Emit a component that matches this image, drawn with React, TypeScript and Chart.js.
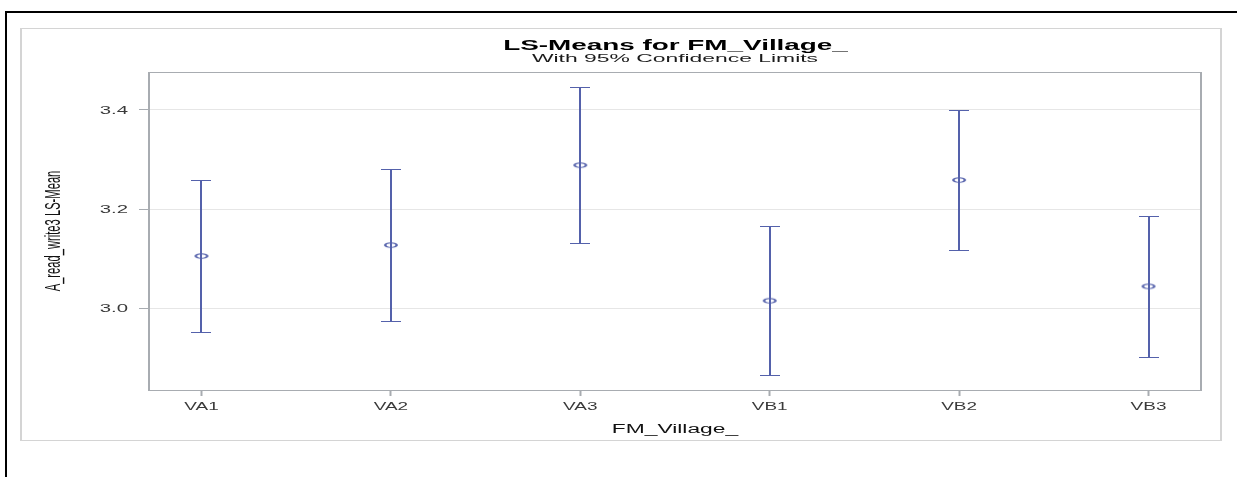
import React, { useEffect, useRef } from "react";
import { Chart, registerables } from "chart.js";

Chart.register(...registerables);

const CATEGORIES = ["VA1", "VA2", "VA3", "VB1", "VB2", "VB3"];
const LSMEAN = [3.106, 3.128, 3.289, 3.016, 3.259, 3.045];
const LOWER = [2.954, 2.975, 3.132, 2.866, 3.118, 2.903];
const UPPER = [3.259, 3.281, 3.446, 3.166, 3.4, 3.187];
const Y_TICKS = [3.0, 3.2, 3.4];
const Y_MIN = 2.8363;
const Y_MAX = 3.4765;
const X_PAD = 0.277;

const TITLE = "LS-Means for FM_Village_";
const SUBTITLE = "With 95% Confidence Limits";
const X_TITLE = "FM_Village_";
const Y_TITLE = "A_read_write3 LS-Mean";

const FONT = '"Liberation Sans", Arial, sans-serif';
const BLUE = "#5461ab";

function drawText(
  ctx: CanvasRenderingContext2D,
  text: string,
  x: number,
  y: number,
  font: string,
  color: string,
  kx: number,
  align: CanvasTextAlign,
  baseline: CanvasTextBaseline,
  rotate = false
) {
  ctx.save();
  ctx.translate(x, y);
  ctx.scale(kx, 1);
  if (rotate) ctx.rotate(-Math.PI / 2);
  ctx.font = font;
  ctx.fillStyle = color;
  ctx.textAlign = align;
  ctx.textBaseline = baseline;
  ctx.fillText(text, 0, 0);
  ctx.restore();
}

function makeMarker(): HTMLCanvasElement {
  const mk = document.createElement("canvas");
  mk.width = 16;
  mk.height = 8;
  const c = mk.getContext("2d")!;
  c.save();
  c.translate(8, 4);
  c.scale(2.5, 1);
  c.beginPath();
  c.arc(0, 0, 2.3, 0, Math.PI * 2);
  c.lineWidth = 1;
  c.strokeStyle = BLUE;
  c.stroke();
  c.restore();
  return mk;
}

const framePlugin = {
  id: "framePlugin",
  beforeDraw(chart: any) {
    const ctx = chart.ctx as CanvasRenderingContext2D;
    ctx.save();
    ctx.fillStyle = "#ffffff";
    ctx.fillRect(0, 0, chart.width, chart.height);
    // outer black frame
    ctx.fillStyle = "#000000";
    ctx.fillRect(5, 11, chart.width - 5, 2);
    ctx.fillRect(5, 11, 2, chart.height - 11);
    // gray graph box
    ctx.fillStyle = "#d4d4d4";
    ctx.fillRect(20, 28, 1202, 1);
    ctx.fillRect(20, 440, 1202, 1);
    ctx.fillRect(20, 28, 2, 413);
    ctx.fillRect(1220, 28, 2, 413);
    ctx.restore();
  },
  beforeDatasetsDraw(chart: any) {
    const ctx = chart.ctx as CanvasRenderingContext2D;
    const { left, right, top, bottom } = chart.chartArea;
    const xs = chart.scales.x;
    const ys = chart.scales.y;
    ctx.save();
    // plot border
    ctx.fillStyle = "#a8acb1";
    ctx.fillRect(left, Math.round(top), right - left, 1);
    ctx.fillRect(left, Math.round(bottom), right - left + 1, 1);
    ctx.fillRect(left - 1, top, 2, bottom - top + 1);
    ctx.fillRect(right - 1, top, 2, bottom - top + 1);
    // error bars
    ctx.fillStyle = BLUE;
    for (let i = 0; i < CATEGORIES.length; i++) {
      const x = xs.getPixelForValue(i);
      const yU = Math.round(ys.getPixelForValue(UPPER[i]));
      const yL = Math.round(ys.getPixelForValue(LOWER[i]));
      ctx.fillRect(Math.round(x) - 1, yU, 2, yL - yU + 1);
      ctx.fillRect(Math.round(x) - 10, yU, 20, 1);
      ctx.fillRect(Math.round(x) - 10, yL, 20, 1);
    }
    ctx.restore();
  },
  afterDraw(chart: any) {
    const ctx = chart.ctx as CanvasRenderingContext2D;
    const xs = chart.scales.x;
    const ys = chart.scales.y;
    const { left, right } = chart.chartArea;
    const cx = (left + right) / 2;
    // titles
    drawText(ctx, TITLE, cx + 0.5, 50, `bold 14px ${FONT}`, "#000", 1.99, "center", "alphabetic");
    drawText(ctx, SUBTITLE, cx, 62, `11px ${FONT}`, "#1a1a1a", 2.08, "center", "alphabetic");
    // y tick labels
    for (const v of Y_TICKS) {
      drawText(ctx, v.toFixed(1), 128, ys.getPixelForValue(v) + 0.5, `11px ${FONT}`, "#3a3a3a", 1.85, "right", "middle");
    }
    // x tick labels
    CATEGORIES.forEach((c, i) => {
      drawText(ctx, c, xs.getPixelForValue(i), 409.5, `11.5px ${FONT}`, "#3a3a3a", 1.65, "center", "alphabetic");
    });
    // axis titles
    drawText(ctx, X_TITLE, cx, 432.5, `12px ${FONT}`, "#111", 1.9, "center", "alphabetic");
    const cy = (chart.chartArea.top + chart.chartArea.bottom) / 2;
    drawText(ctx, Y_TITLE, 60, cy, `11.2px ${FONT}`, "#111", 1.9, "center", "alphabetic", true);
  },
};

export default function App() {
  const ref = useRef<HTMLCanvasElement | null>(null);
  useEffect(() => {
    if (!ref.current) return;
    const marker = makeMarker();
    const chart = new Chart(ref.current, {
      type: "scatter",
      data: {
        datasets: [
          {
            label: "LS-Mean",
            data: CATEGORIES.map((_, i) => ({ x: i, y: LSMEAN[i] })),
            pointStyle: marker as any,
            pointRadius: 7,
            borderColor: BLUE,
            backgroundColor: "transparent",
          },
        ],
      },
      options: {
        animation: false,
        responsive: false,
        devicePixelRatio: 1,
        layout: { padding: { left: 0, right: 36, top: 72, bottom: 77 } },
        plugins: {
          legend: { display: false },
          title: { display: false },
          tooltip: { enabled: false },
        },
        scales: {
          x: {
            type: "linear",
            min: -X_PAD,
            max: CATEGORIES.length - 1 + X_PAD,
            afterBuildTicks: (s: any) => {
              s.ticks = CATEGORIES.map((_, i) => ({ value: i }));
            },
            afterFit: (s: any) => {
              s.height = 10;
            },
            grid: {
              drawOnChartArea: false,
              drawTicks: true,
              tickLength: 6,
              tickColor: "#a8acb1",
              tickWidth: 2,
            },
            border: { display: false },
            ticks: { display: false },
          },
          y: {
            type: "linear",
            min: Y_MIN,
            max: Y_MAX,
            afterBuildTicks: (s: any) => {
              s.ticks = Y_TICKS.map((v) => ({ value: v }));
            },
            afterFit: (s: any) => {
              s.width = 149;
            },
            grid: {
              color: "#e6e6e6",
              lineWidth: 1,
              drawTicks: true,
              tickLength: 10,
              tickColor: "#a8acb1",
            },
            border: { display: false },
            ticks: { display: false },
          },
        },
      },
      plugins: [framePlugin],
    });
    return () => chart.destroy();
  }, []);
  return (
    <div style={{ position: "absolute", left: 0, top: 0, width: 1237, height: 477 }}>
      <canvas ref={ref} width={1237} height={477} style={{ display: "block" }} />
    </div>
  );
}
